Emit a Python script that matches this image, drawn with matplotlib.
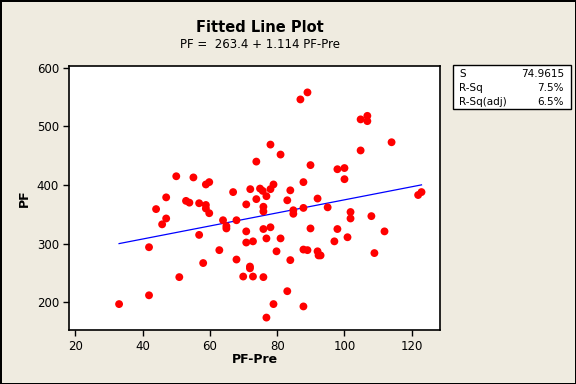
import matplotlib
matplotlib.use("Agg")
import matplotlib.pyplot as plt
import numpy as np

# PF-Pre vs PF values
pf_pre = [33.0, 41.9, 41.9, 44.0, 45.8, 47.0, 47.0, 50.0, 50.9, 52.9,
          53.9, 55.1, 56.8, 56.8, 58.0, 58.8, 58.8, 59.8, 58.8, 59.8,
          62.8, 63.9, 64.9, 64.9, 66.9, 67.9, 67.9, 69.9, 70.8, 70.8,
          70.8, 72.8, 71.9, 71.9, 72.8, 72.0, 73.8, 73.8, 74.9, 75.7,
          76.8, 78.0, 78.9, 78.0, 81.0, 86.9, 89.0, 83.9, 87.8, 83.0,
          92.0, 75.9, 75.9, 84.8, 84.8, 87.8, 95.0, 89.9, 97.9, 100.0,
          100.0, 104.8, 106.8, 106.8, 104.8, 114.0, 121.9, 122.9, 101.8, 101.8,
          108.0, 111.9, 75.9, 78.0, 76.8, 81.0, 89.9, 97.9, 97.0, 100.9,
          79.8, 83.9, 87.8, 89.0, 92.0, 92.3, 92.9, 108.9, 75.9, 83.0,
          78.9, 87.8, 76.8]
pf = [197, 212, 294, 359, 333, 343, 379, 415, 243, 373,
      370, 413, 369, 315, 267, 366, 360, 352, 401, 405,
      289, 340, 330, 326, 388, 340, 273, 244, 367, 321,
      302, 304, 261, 258, 244, 393, 440, 376, 394, 390,
      381, 393, 401, 469, 452, 546, 558, 391, 405, 374,
      377, 363, 355, 357, 351, 361, 362, 434, 427, 429,
      410, 512, 518, 509, 459, 473, 383, 388, 354, 343,
      347, 321, 325, 328, 309, 309, 326, 325, 304, 311,
      287, 272, 290, 289, 287, 280, 280, 284, 243, 219,
      197, 193, 174]

intercept = 263.4
slope = 1.114
stats_names = ["S", "R-Sq", "R-Sq(adj)"]
stats_values = ["74.9615", "7.5%", "6.5%"]

bg = "#EFEBE0"
fig = plt.figure(figsize=(5.76, 3.84), dpi=100, facecolor=bg)
fig.patch.set_edgecolor("black")
fig.patch.set_linewidth(2)

ax = fig.add_axes([0.1203, 0.1406, 0.6436, 0.6875])
ax.set_facecolor("white")

ax.scatter(pf_pre, pf, s=32, color="red", edgecolors="none", zorder=3)
xs = np.array([min(pf_pre), max(pf_pre)])
ax.plot(xs, intercept + slope * xs, color="blue", linewidth=0.9, zorder=2)

ax.set_xlim(18.2, 128.4)
ax.set_ylim(152.8, 603)
ax.set_xticks([20, 40, 60, 80, 100, 120])
ax.set_yticks([200, 300, 400, 500, 600])
ax.tick_params(direction="out", length=4, width=1, labelsize=8.5, colors="black")
for sp in ax.spines.values():
    sp.set_linewidth(1.2)

ax.set_xlabel("PF-Pre", fontsize=9, fontweight="bold", labelpad=0)
ax.set_ylabel("PF", fontsize=9, fontweight="bold", labelpad=4)

fig.text(0.451, 1 - 28 / 384, "Fitted Line Plot", ha="center", va="center",
         fontsize=10.5, fontweight="bold")
fig.text(0.451, 1 - 44 / 384, "PF =  263.4 + 1.114 PF-Pre", ha="center",
         va="center", fontsize=8.5)

# stats box
bx0, bx1 = 453.3 / 576, 570.7 / 576
by0, by1 = 1 - 109.3 / 384, 1 - 64.7 / 384
box = plt.Rectangle((bx0, by0), bx1 - bx0, by1 - by0, transform=fig.transFigure,
                    facecolor="white", edgecolor="black", linewidth=1)
fig.patches.append(box)
rows_y = [73.7, 87.7, 101.7]
for name, val, yy in zip(stats_names, stats_values, rows_y):
    fig.text(459 / 576, 1 - yy / 384, name, ha="left", va="center", fontsize=7.5)
    fig.text(564 / 576, 1 - yy / 384, val, ha="right", va="center", fontsize=7.5)

fig.savefig("out.png", dpi=100, facecolor=bg, edgecolor="black")
